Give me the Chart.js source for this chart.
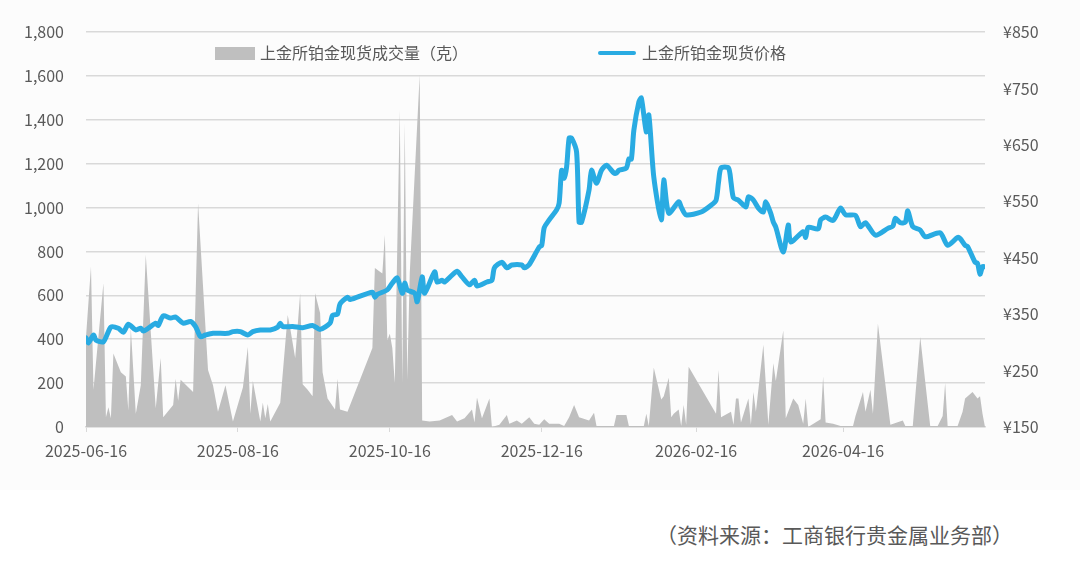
<!DOCTYPE html>
<html>
<head>
<meta charset="utf-8">
<script src="https://cdn.jsdelivr.net/npm/chart.js@4"></script>
<style>
  html, body { margin: 0; padding: 0; background: #fff; }
  body { width: 1080px; height: 562px; position: relative; overflow: hidden;
         font-family: 'Noto Sans CJK SC', 'Noto Sans', sans-serif; color: #595959; }
  .chart-box { position: absolute; left: 0; top: 0; width: 1080px; height: 490px; background: #fcfcfc; }
  .legend { position: absolute; top: 41px; font-size: 16px; line-height: 22px; white-space: nowrap; }
  .legend .sw-area { display: inline-block; width: 40px; height: 13px; background: #bfbfbf; vertical-align: -1px; margin-right: 5px; }
  .legend .sw-line { display: inline-block; width: 38px; height: 4px; border-radius: 2px; background: #29abe2; vertical-align: 4px; margin-right: 6px; }
  .source { position: absolute; left: 656px; top: 519px; font-size: 21px; white-space: nowrap; }
</style>
</head>
<body>
<div class="chart-box"><canvas id="platChart" width="1080" height="490"></canvas></div>
<div class="legend" style="left:215px"><span class="sw-area"></span>上金所铂金现货成交量（克）</div>
<div class="legend" style="left:598px"><span class="sw-line"></span>上金所铂金现货价格</div>
<div class="source">（资料来源：工商银行贵金属业务部）</div>

<script>
const START = '2025-06-16'
const xLabels = ['2025-06-16', '2025-08-16', '2025-10-16', '2025-12-16', '2026-02-16', '2026-04-16']
const END_DAY = 361

// volume (grams), day offset from START
const volDays = [0, 2, 3, 7, 8, 9, 10, 11, 14, 16, 17, 18, 20, 22, 24, 28, 30, 31, 35, 36, 37, 38, 43, 45, 49, 51, 53, 56, 59,
  63, 65, 66, 67, 70, 71, 72, 73, 74, 78, 81, 82, 84, 86, 87, 89, 91, 92, 94, 95, 97, 100, 101, 102, 105,
  115, 116, 119, 120, 121, 122, 123, 124, 126, 127, 128, 129, 130, 134, 135,
  138, 142, 147, 149, 152, 155, 156, 157, 159, 162, 163, 166, 169, 170, 173, 175, 178, 180, 182, 184, 186,
  190, 192, 194, 196, 198, 202, 204, 205, 212, 213, 217, 218, 224, 225, 226, 228, 231, 232, 234, 235, 236,
  238, 239, 240, 241, 242, 253, 254, 255, 259, 260, 261, 262, 263, 266, 267, 268, 269, 272, 274, 276, 277,
  280, 281, 284, 286, 288, 289, 290, 295, 296, 297, 300, 303, 308, 309, 312, 313, 315, 316, 318, 323,
  328, 329, 332, 335, 338, 339, 342, 344, 345, 346, 350, 352, 353, 356, 358, 359, 360, 361]
const volValues = [410, 730, 170, 655, 45, 90, 40, 335, 250, 230, 75, 450, 60, 190, 785, 85, 315, 45, 100, 220, 120, 215, 160, 1020, 260, 190, 70, 190, 25,
  180, 365, 60, 210, 25, 110, 40, 105, 25, 110, 510, 450, 315, 610, 195, 170, 140, 610, 520, 250, 130, 80, 220, 80, 70,
  360, 725, 700, 875, 395, 425, 360, 200, 1445, 200, 1385, 215, 700, 1605, 30,
  25, 30, 55, 25, 40, 80, 20, 135, 40, 130, 0, 10, 55, 15, 30, 15, 45, 15, 10, 35, 15,
  15, 5, 45, 100, 45, 30, 65, 5, 5, 55, 55, 5, 5, 60, 5, 270, 125, 140, 225, 45, 60,
  80, 5, 100, 10, 275, 60, 260, 45, 70, 10, 130, 130, 20, 130, 10, 160, 70, 375, 10, 290, 210,
  440, 40, 130, 100, 15, 130, 0, 35, 230, 20, 15, 5, 5, 50, 160, 70, 170, 60, 470, 10,
  30, 5, 5, 410, 105, 5, 5, 50, 200, 5, 5, 70, 130, 160, 130, 140, 60, 0]

// spot price (CNY/gram), day offset from START
const priceDays = [0, 1, 3, 4, 7, 10, 13, 15, 17, 20, 22, 23, 25, 28, 29, 31, 34, 36, 39, 42, 44, 46, 48, 51, 57, 59, 62,
  65, 67, 70, 74, 77, 78, 79, 83, 87, 91, 94, 98, 99, 101, 102, 105, 106, 115, 116, 117, 121, 123, 125,
  127, 128, 129, 132, 133, 135, 136, 140, 141, 143, 144, 147, 149, 151, 154, 156, 157, 161, 163, 164,
  167, 169, 171, 175, 176, 178, 182, 183, 184, 186, 189, 190, 191, 192, 193, 194, 195, 197, 198, 199,
  202, 203, 205, 207, 209, 212, 213, 214, 217, 218, 219, 220, 222, 223, 225, 226, 228, 231, 232, 234,
  238, 239, 241, 247, 251, 253, 254, 255, 258, 259, 260, 262, 265, 266, 268, 270, 272, 273, 275, 276,
  277, 280, 282, 283, 288, 289, 290, 294, 295, 297, 300, 303, 305, 309, 311, 313, 317, 322, 324, 325,
  327, 329, 330, 332, 335, 337, 343, 346, 350, 351, 353, 354, 357, 358, 359, 360, 361]
const priceValues = [308, 299, 313, 304, 301, 327, 325, 318, 332, 322, 325, 320, 325, 334, 330, 347, 343, 345, 334, 337, 328, 310, 313, 316, 316, 319, 319,
  313, 319, 322, 322, 327, 334, 328, 328, 326, 330, 323, 334, 348, 350, 368, 380, 376, 389, 380, 385, 393, 405, 414,
  387, 405, 393, 387, 372, 416, 387, 425, 407, 410, 407, 419, 426, 416, 402, 410, 400, 407, 410, 432,
  442, 432, 437, 437, 432, 438, 469, 472, 503, 517, 535, 547, 605, 591, 611, 662, 662, 637, 513, 513,
  570, 605, 582, 605, 614, 600, 600, 605, 609, 625, 625, 676, 726, 733, 673, 703, 593, 517, 588, 529,
  549, 540, 526, 531, 543, 552, 584, 609, 609, 584, 556, 552, 540, 558, 552, 538, 531, 549, 528, 513,
  504, 460, 508, 478, 496, 486, 504, 501, 517, 522, 516, 538, 526, 525, 505, 512, 490, 502, 506, 520,
  512, 513, 533, 505, 499, 487, 494, 472, 486, 484, 472, 470, 442, 440, 421, 434, 434]

const DAY = 86400000
const dayOf = s => Math.round((Date.parse(s) - Date.parse(START)) / DAY)
const xTickDays = xLabels.map(dayOf)

const tickFont = { family: "'Noto Sans CJK SC', 'Noto Sans', sans-serif", size: 16 }
const tickColor = '#595959'
const gridColor = '#d9d9d9'

new Chart(document.getElementById('platChart'), {
  data: {
    datasets: [
      {
        type: 'line',
        label: '上金所铂金现货价格',
        data: priceDays.map((d, i) => ({ x: d, y: priceValues[i] })),
        yAxisID: 'y1',
        borderColor: '#29abe2',
        borderWidth: 5,
        borderJoinStyle: 'round',
        borderCapStyle: 'round',
        tension: 0.25,
        pointRadius: 0,
        fill: false,
        order: 0,
      },
      {
        type: 'line',
        label: '上金所铂金现货成交量（克）',
        data: volDays.map((d, i) => ({ x: d, y: volValues[i] })),
        yAxisID: 'y',
        borderWidth: 0,
        borderColor: 'rgba(0,0,0,0)',
        backgroundColor: '#bfbfbf',
        fill: 'origin',
        tension: 0,
        pointRadius: 0,
        order: 1,
      },
    ],
  },
  options: {
    responsive: false,
    animation: false,
    layout: { padding: { top: 32, left: 0, right: 0, bottom: 0 } },
    plugins: { legend: { display: false }, tooltip: { enabled: false } },
    scales: {
      x: {
        type: 'linear',
        min: 0,
        max: END_DAY,
        afterBuildTicks: s => { s.ticks = xTickDays.map(v => ({ value: v })) },
        afterFit: s => { s.height = 63 },
        grid: { drawOnChartArea: false, drawTicks: true, tickLength: 5, color: gridColor },
        border: { display: true, color: gridColor, width: 1.5 },
        ticks: {
          autoSkip: false, maxRotation: 0, padding: 9, color: tickColor, font: tickFont,
          callback: v => xLabels[xTickDays.indexOf(v)] ?? '',
        },
      },
      y: {
        position: 'left',
        min: 0,
        max: 1800,
        afterFit: s => { s.width = 86 },
        grid: { color: gridColor, lineWidth: 1.5, drawTicks: false },
        border: { display: false },
        ticks: { stepSize: 200, padding: 22, color: tickColor, font: tickFont, callback: v => v.toLocaleString('en-US') },
      },
      y1: {
        position: 'right',
        min: 150,
        max: 850,
        afterFit: s => { s.width = 95 },
        grid: { drawOnChartArea: false, drawTicks: false },
        border: { display: false },
        ticks: { stepSize: 100, padding: 18, color: tickColor, font: tickFont, callback: v => '¥' + v },
      },
    },
  },
})
</script>
</body>
</html>
